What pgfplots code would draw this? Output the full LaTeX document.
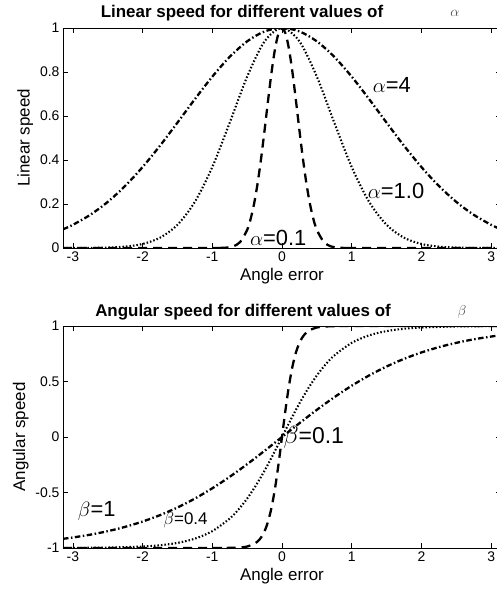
\documentclass[border=0pt]{standalone}
\usepackage{pgfplots}
\pgfplotsset{compat=1.18}
\usepackage{fontspec}
\setmainfont{Liberation Sans}
\begin{document}
\begin{tikzpicture}
\useasboundingbox (0bp,0bp) rectangle (497bp,-596bp);
\tikzset{
  lbl/.style={anchor=west, inner sep=0pt, font=\fontsize{#1}{#1}\selectfont},
}
\pgfplotsset{
  speed/.style={
    scale only axis,
    width=438bp,
    xmin=-3.1416, xmax=3.1416,
    xtick={-3,-2,...,3},
    tick align=inside,
    tick pos=both,
    major tick length=5bp,
    axis line style={line width=0.6pt},
    tick style={line width=0.5pt, black},
    ticklabel style={font=\fontsize{14}{14}\selectfont},
    label style={font=\fontsize{17}{17}\selectfont},
    /pgf/number format/assume math mode=true,
    xlabel={Angle error},
    clip=true,
  },
  la/.style={black, line width=2.3pt, dash pattern=on 5.5bp off 2.5bp on 1.5bp off 2.5bp},
  lb/.style={black, line width=2.1pt, dash pattern=on 1.5bp off 2bp},
  lc/.style={black, line width=2.3pt, dash pattern=on 9bp off 6bp},
}
\node[font=\bfseries\fontsize{17}{17}\selectfont] at (242bp,-13bp) {Linear speed for different values of};
\node[font=\fontsize{15}{15}\selectfont, text=black!70] at (455bp,-13bp) {$\alpha$};
\begin{axis}[speed,
  at={(63bp,-248bp)}, anchor=south west,
  height=220bp,
  ymin=0, ymax=1,
  ytick={0,0.2,...,1},
  yticklabels={0,0.2,0.4,0.6,0.8,1},
  ylabel={Linear speed},
]
\addplot[la, smooth] coordinates {
(-3.1416,0.0850)(-3,0.1054)(-2.75,0.1510)(-2.5,0.2096)(-2.25,0.2821)(-2,0.3679)(-1.75,0.4650)(-1.5,0.5698)(-1.25,0.6766)(-1,0.7788)(-0.75,0.8688)(-0.5,0.9394)(-0.25,0.9845)(0,1)
(0.25,0.9845)(0.5,0.9394)(0.75,0.8688)(1,0.7788)(1.25,0.6766)(1.5,0.5698)(1.75,0.4650)(2,0.3679)(2.25,0.2821)(2.5,0.2096)(2.75,0.1510)(3,0.1054)(3.1416,0.0850)};
\addplot[lb, smooth] coordinates {
(-3.1416,0)(-3,0.0001)(-2.75,0.0005)(-2.5,0.0019)(-2.25,0.0063)(-2,0.0183)(-1.75,0.0468)(-1.5,0.1054)(-1.25,0.2096)(-1,0.3679)(-0.75,0.5698)(-0.5,0.7788)(-0.25,0.9394)(0,1)
(0.25,0.9394)(0.5,0.7788)(0.75,0.5698)(1,0.3679)(1.25,0.2096)(1.5,0.1054)(1.75,0.0468)(2,0.0183)(2.25,0.0063)(2.5,0.0019)(2.75,0.0005)(3,0.0001)(3.1416,0)};
\addplot[lc, smooth] coordinates {
(-3.1416,0)(-1,0)(-0.9,0.0003)(-0.8,0.0017)(-0.7,0.0074)(-0.6,0.0273)(-0.5,0.0821)(-0.45,0.1320)(-0.4,0.2019)(-0.35,0.2938)(-0.3,0.4066)(-0.25,0.5353)(-0.2,0.6703)(-0.15,0.7985)(-0.1,0.9048)(-0.05,0.9753)(0,1)
(0.05,0.9753)(0.1,0.9048)(0.15,0.7985)(0.2,0.6703)(0.25,0.5353)(0.3,0.4066)(0.35,0.2938)(0.4,0.2019)(0.45,0.1320)(0.5,0.0821)(0.6,0.0273)(0.7,0.0074)(0.8,0.0017)(0.9,0.0003)(1,0)(3.1416,0)};
\node[lbl=22] at (axis cs:1.3,0.74) {$\alpha$=4};
\node[lbl=22] at (axis cs:1.23,0.26) {$\alpha$=1.0};
\node[lbl=22] at (axis cs:-0.46,0.045) {$\alpha$=0.1};
\end{axis}
\node[font=\bfseries\fontsize{17}{17}\selectfont] at (243bp,-312bp) {Angular speed for different values of};
\node[font=\fontsize{15}{15}\selectfont, text=black!70] at (462bp,-312bp) {$\beta$};
\begin{axis}[speed,
  at={(63bp,-548bp)}, anchor=south west,
  height=222bp,
  ymin=-1, ymax=1,
  ytick={-1,-0.5,0,0.5,1},
  yticklabels={-1,-0.5,0,0.5,1},
  ylabel={Angular speed},
]
\addplot[la, smooth] coordinates {
(-3.1416,-0.9172)(-3,-0.9051)(-2.75,-0.8800)(-2.5,-0.8483)(-2.25,-0.8095)(-2,-0.7616)(-1.75,-0.7039)(-1.5,-0.6351)(-1.25,-0.5546)(-1,-0.4621)(-0.75,-0.3584)(-0.5,-0.2449)(-0.25,-0.1244)(0,0)
(0.25,0.1244)(0.5,0.2449)(0.75,0.3584)(1,0.4621)(1.25,0.5546)(1.5,0.6351)(1.75,0.7039)(2,0.7616)(2.25,0.8095)(2.5,0.8483)(2.75,0.8800)(3,0.9051)(3.1416,0.9172)};
\addplot[lb, smooth] coordinates {
(-3.1416,-0.9993)(-3,-0.9989)(-2.5,-0.9961)(-2,-0.9866)(-1.75,-0.9752)(-1.5,-0.9541)(-1.25,-0.9158)(-1,-0.8483)(-0.75,-0.7346)(-0.625,-0.6535)(-0.5,-0.5546)(-0.375,-0.4371)(-0.25,-0.3027)(-0.125,-0.1550)(0,0)
(0.125,0.1550)(0.25,0.3027)(0.375,0.4371)(0.5,0.5546)(0.625,0.6535)(0.75,0.7346)(1,0.8483)(1.25,0.9158)(1.5,0.9541)(1.75,0.9752)(2,0.9866)(2.5,0.9961)(3,0.9989)(3.1416,0.9993)};
\addplot[lc, smooth] coordinates {
(-3.1416,-1)(-1,-0.9999)(-0.8,-0.9993)(-0.6,-0.9951)(-0.5,-0.9866)(-0.4,-0.9640)(-0.35,-0.9414)(-0.3,-0.9051)(-0.25,-0.8483)(-0.2,-0.7616)(-0.15,-0.6351)(-0.1,-0.4621)(-0.05,-0.2449)(0,0)
(0.05,0.2449)(0.1,0.4621)(0.15,0.6351)(0.2,0.7616)(0.25,0.8483)(0.3,0.9051)(0.35,0.9414)(0.4,0.9640)(0.5,0.9866)(0.6,0.9951)(0.8,0.9993)(1,0.9999)(3.1416,1)};
\node[lbl=23] at (axis cs:0.02,0.0) {$\beta$=0.1};
\node[lbl=22] at (axis cs:-2.93,-0.67) {$\beta$=1};
\node[lbl=17] at (axis cs:-1.7,-0.75) {$\beta$=0.4};
\end{axis}
\end{tikzpicture}
\end{document}
